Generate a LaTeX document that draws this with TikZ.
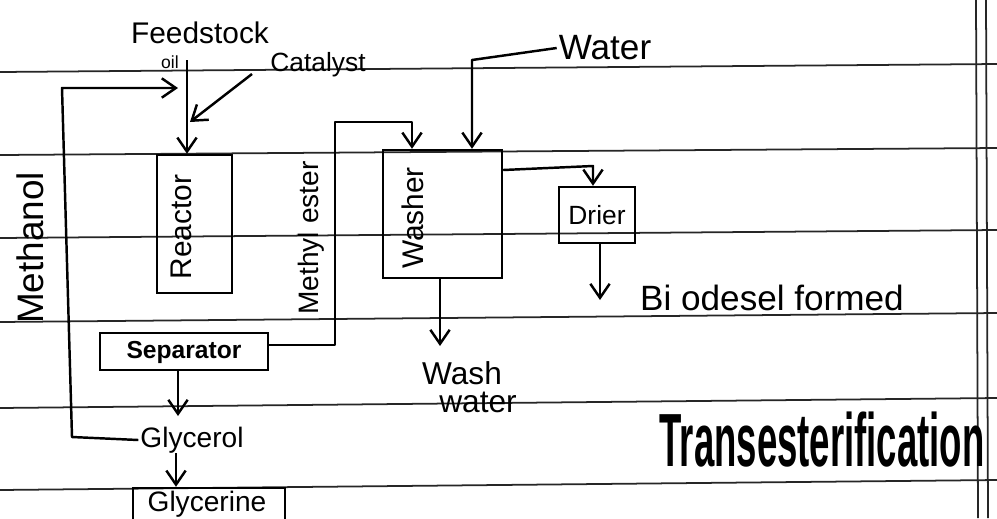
\documentclass[tikz,border=0pt]{standalone}
\usepackage{fontspec}
\usepackage{graphicx}
\setmainfont{Liberation Sans}
\usetikzlibrary{arrows.meta}
\tikzset{
  flow/.style={line width=1.4pt, line join=round},
  arr/.style={flow, -{Straight Barb[length=8pt,width=11pt,line width=1.4pt]}},
  unitbox/.style={draw, line width=1.4pt, inner sep=0pt},
  ruled/.style={line width=1pt, black!85},
  lbl/.style={inner sep=1pt}
}
\newcommand{\fs}[1]{\fontsize{#1}{#1}\selectfont}
\begin{document}
\begin{tikzpicture}[x=0.02cm, y=-0.02cm]
\useasboundingbox (0,0) rectangle (997,518);
\clip (0,0) rectangle (997,518);
\fill[white] (0,0) rectangle (997,518);
% ruled paper
\draw[ruled] (0,72) -- (997,64);
\draw[ruled] (0,155) -- (997,148);
\draw[ruled] (0,238) -- (997,230);
\draw[ruled] (0,322) -- (997,313);
\draw[ruled] (0,408) -- (997,398);
\draw[ruled] (0,490) -- (997,480);
\draw[ruled] (976,0) -- (978,518);
\draw[ruled] (986,0) -- (988,518);

% units
\node[unitbox, minimum width=1.5cm, minimum height=2.76cm] (reactor) at (194.5,224) {};
\node[lbl, rotate=90] (reactortxt) at (181,227) {\fs{17}Reactor};
\node[unitbox, minimum width=3.36cm, minimum height=0.74cm] (separator) at (184,351.5) {};
\node[lbl] (septxt) at (184,352) {\fs{14}\bfseries Separator};
\node[unitbox, minimum width=2.38cm, minimum height=2.56cm] (washer) at (442.5,214) {};
\node[lbl, rotate=90] (washertxt) at (413,218) {\fs{17}Washer};
\node[unitbox, minimum width=1.52cm, minimum height=1.12cm] (drier) at (597,215) {\fs{15}Drier};
\node[unitbox, minimum width=3.04cm, minimum height=0.84cm] (glycerine) at (209,509) {};
\node[lbl] (glycerinetxt) at (207,504) {\fs{16}Glycerine};

% labels
\node[lbl] (feedstock) at (200,33) {\fs{17}Feedstock};
\node[lbl] (oil) at (170,62) {\fs{10}oil};
\node[lbl] (catalyst) at (318,65) {\fs{15}Catalyst};
\node[lbl] (water) at (605,48) {\fs{20}Water};
\node[lbl, rotate=90] (methanol) at (30,248) {\fs{21}Methanol};
\node[lbl, rotate=90] (methylester) at (311,238) {\fs{16}Methyl ester};
\node[lbl] (biodiesel) at (772,298) {\fs{20}Bi odesel formed};
\node[lbl] (wash) at (462,373) {\fs{18}Wash};
\node[lbl] (washwater) at (478,402) {\fs{18}water};
\node[lbl] (glycerol) at (192,440) {\fs{16}Glycerol};
\node[lbl] (title) at (822,440) {\scalebox{0.8}[1.65]{\fs{26}\bfseries Transesterification}};

% connectors
\coordinate (fsin) at (187,60);
\draw[arr] (fsin) -- (fsin |- reactor.north);
\coordinate (catin) at (252,74);
\coordinate (catout) at (190,122);
\draw[arr] (catin) -- (catout);
\coordinate (m1) at (72,437);
\coordinate (m2) at (62,88);
\coordinate (m3) at (178,88);
\draw[arr] (glycerol.west) -- (m1) -- (m2) -- (m3);
\coordinate (sepout) at (178,370);
\draw[arr] (sepout) -- (178,416);
\coordinate (glyout) at (176,453);
\draw[arr] (glyout) -- (glyout |- glycerine.north);
\coordinate (me1) at (335,345);
\coordinate (me2) at (335,122);
\coordinate (me3) at (412,122);
\draw[arr] (separator.east |- me1) -- (me1) -- (me2) -- (me3) -- (me3 |- washer.north);
\coordinate (w1) at (472,60);
\draw[arr] (water.west) -- (w1) -- (w1 |- washer.north);
\coordinate (d1) at (593,166);
\draw[arr] (washer.east |- 0,170) -- (d1) -- (d1 |- drier.north);
\coordinate (bout) at (600,300);
\draw[arr] (drier.south -| bout) -- (bout);
\coordinate (wwout) at (440,346);
\draw[arr] (washer.south -| wwout) -- (wwout);
\end{tikzpicture}
\end{document}
